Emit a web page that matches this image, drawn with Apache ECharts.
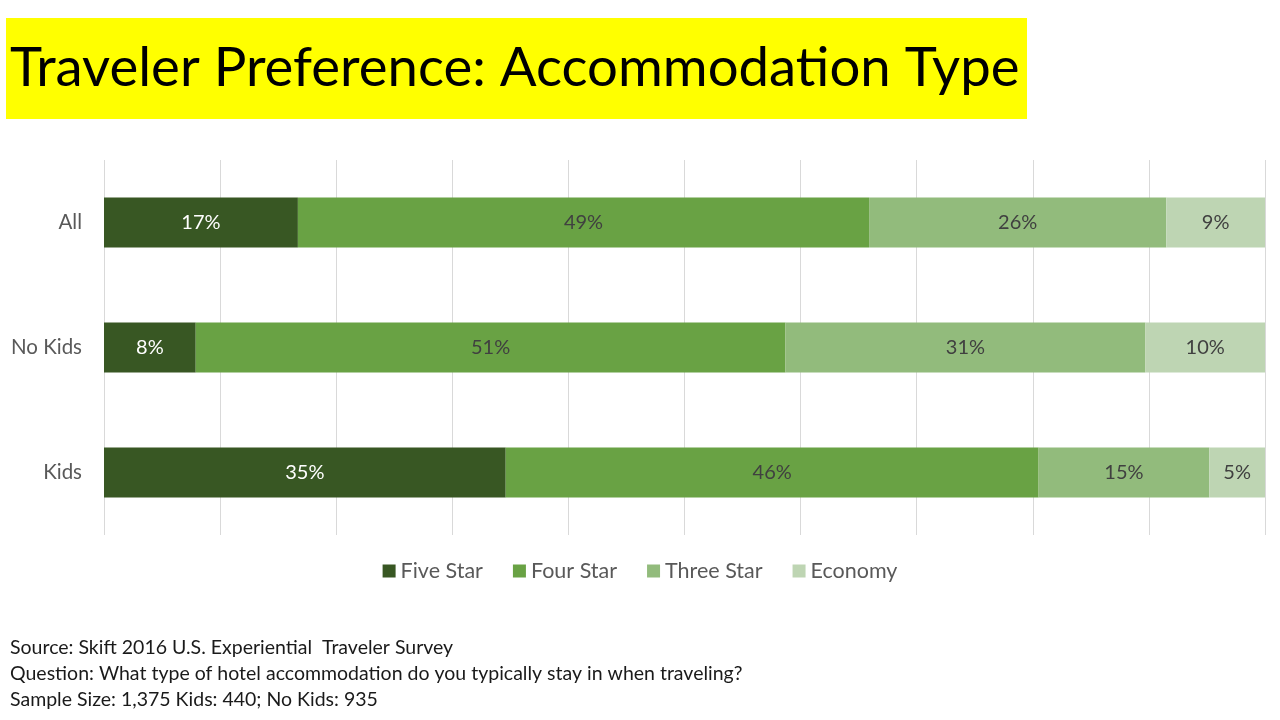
<!DOCTYPE html>
<html>
<head>
<meta charset="utf-8">
<script src="https://cdn.jsdelivr.net/npm/echarts@6/dist/echarts.min.js"></script>
<style>
html,body{margin:0;padding:0;background:#fff;}
#c{width:1280px;height:720px;}
</style>
</head>
<body>
<div id="c"></div>
<script>
const categories = ['All', 'No Kids', 'Kids'];
const seriesNames = ['Five Star', 'Four Star', 'Three Star', 'Economy'];
const fiveStar = [16.7, 7.9, 34.6];
const fourStar = [49.2, 50.8, 45.9];
const threeStar = [25.6, 31.0, 14.7];
const economy = [8.5, 10.3, 4.8];
const titleText = 'Traveler Preference: Accommodation Type';
const footerLines = [
  'Source: Skift 2016 U.S. Experiential  Traveler Survey',
  'Question: What type of hotel accommodation do you typically stay in when traveling?',
  'Sample Size: 1,375 Kids: 440; No Kids: 935'
];

const colors = ['#385723', '#69a244', '#92bb7c', '#bed5b3'];
const labelColors = ['#ffffff', '#404040', '#404040', '#404040'];
const values = [fiveStar, fourStar, threeStar, economy];
const FONT = 'Lato, "Liberation Sans", sans-serif';

const chart = echarts.init(document.getElementById('c'));
chart.setOption({
  animation: false,
  backgroundColor: '#ffffff',
  textStyle: { fontFamily: FONT },
  grid: { left: 104, right: 15, top: 160, bottom: 185, containLabel: false },
  legend: {
    data: seriesNames,
    top: 555,
    left: 'center',
    icon: 'rect',
    itemWidth: 13,
    itemHeight: 13,
    itemGap: 30,
    textStyle: { fontSize: 21.5, color: '#595959', fontFamily: FONT }
  },
  xAxis: {
    type: 'value',
    min: 0,
    max: 100,
    interval: 10,
    axisLabel: { show: false },
    axisLine: { show: false },
    axisTick: { show: false },
    splitLine: { show: true, lineStyle: { color: '#d9d9d9', width: 1 } }
  },
  yAxis: {
    type: 'category',
    data: categories,
    inverse: true,
    axisLine: { show: false },
    axisTick: { show: false },
    axisLabel: { fontSize: 20.5, color: '#595959', margin: 22, fontFamily: FONT }
  },
  series: seriesNames.map((name, i) => ({
    name: name,
    type: 'bar',
    stack: 'total',
    barCategoryGap: '60%',
    data: values[i],
    itemStyle: { color: colors[i] },
    label: {
      show: true,
      position: 'inside',
      fontSize: 20,
      color: labelColors[i],
      fontFamily: FONT,
      formatter: p => Math.round(p.value) + '%'
    }
  })),
  graphic: [
    {
      type: 'rect',
      left: 6, top: 18,
      shape: { width: 1021, height: 101 },
      style: { fill: '#ffff00' },
      z: 0
    },
    {
      type: 'text',
      left: 10, top: 41,
      style: { text: titleText, fontSize: 54.5, fill: '#000000', fontFamily: FONT },
      z: 1
    }
  ].concat(footerLines.map((t, i) => ({
    type: 'text',
    left: 10, top: 638 + i * 26,
    style: { text: t, fontSize: 19.5, fill: '#1a1a1a', fontFamily: FONT }
  })))
});
</script>
</body>
</html>
